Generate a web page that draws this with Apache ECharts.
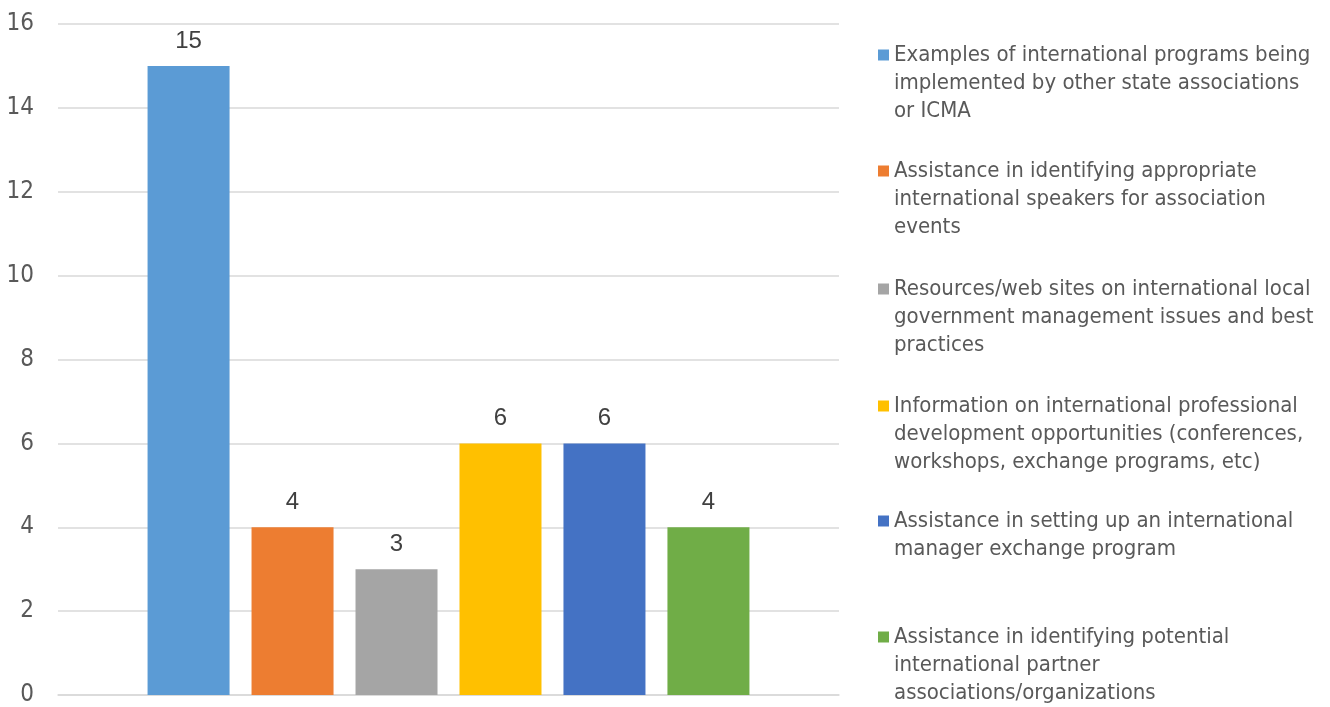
<!DOCTYPE html>
<html>
<head>
<meta charset="utf-8">
<script src="https://cdn.jsdelivr.net/npm/echarts@6/dist/echarts.min.js"></script>
<style>html,body{margin:0;padding:0;background:#fff;}#c{width:1330px;height:707px;}</style>
</head>
<body>
<div id="c"></div>
<script>
const categories = [''];
const seriesNames = [
  'Examples of international programs being implemented by other state associations or ICMA',
  'Assistance in identifying appropriate international speakers for association events',
  'Resources/web sites on international local government management issues and best practices',
  'Information on international professional development opportunities (conferences, workshops, exchange programs, etc)',
  'Assistance in setting up an international manager exchange program',
  'Assistance in identifying potential international partner associations/organizations'
];
const legendLines = [
  ['Examples of international programs being', 'implemented by other state associations', 'or ICMA'],
  ['Assistance in identifying appropriate', 'international speakers for association', 'events'],
  ['Resources/web sites on international local', 'government management issues and best', 'practices'],
  ['Information on international professional', 'development opportunities (conferences,', 'workshops, exchange programs, etc)'],
  ['Assistance in setting up an international', 'manager exchange program'],
  ['Assistance in identifying potential', 'international partner', 'associations/organizations']
];
const values = [15, 4, 3, 6, 6, 4];
const colors = ['#5B9BD5', '#ED7D31', '#A5A5A5', '#FFC000', '#4472C4', '#70AD47'];
const yTicks = {min: 0, max: 16, interval: 2};

const legendFirstLineY = [55, 171, 289, 406, 521, 637];
const LH = 28;
const FONT = '"DejaVu Sans Condensed", "DejaVu Sans", sans-serif';

const legends = seriesNames.map((name, i) => {
  const n = legendLines[i].length;
  return {
    data: [name],
    left: 878,
    top: legendFirstLineY[i] - LH / 2 - (n - 1) * LH,
    orient: 'vertical',
    padding: 0,
    itemWidth: 11,
    itemHeight: 11,
    itemGap: 0,
    selectedMode: false,
    icon: 'rect',
    formatter: () => '\n'.repeat(n - 1) + legendLines[i].join('\n'),
    textStyle: {
      fontFamily: FONT,
      fontSize: 22,
      color: '#595959',
      lineHeight: LH
    }
  };
});

const chart = echarts.init(document.getElementById('c'));
chart.setOption({
  animation: false,
  backgroundColor: '#fff',
  legend: legends,
  grid: {left: 58, right: 491, top: 24, bottom: 12, containLabel: false},
  xAxis: {
    type: 'category',
    data: categories,
    axisLine: {lineStyle: {color: '#d9d9d9', width: 1.5}},
    axisTick: {show: false},
    axisLabel: {show: false}
  },
  yAxis: {
    type: 'value',
    min: yTicks.min, max: yTicks.max, interval: yTicks.interval,
    axisLine: {show: false},
    axisTick: {show: false},
    splitLine: {lineStyle: {color: '#d9d9d9', width: 1.5}},
    axisLabel: {color: '#595959', fontSize: 24, fontFamily: FONT, margin: 24}
  },
  series: seriesNames.map((name, i) => ({
    name: name,
    type: 'bar',
    data: [values[i]],
    barWidth: 82,
    barGap: '26.8%',
    itemStyle: {color: colors[i]},
    label: {
      show: true,
      position: 'top',
      distance: 13,
      color: '#404040',
      fontSize: 24,
      fontFamily: '"Liberation Sans", "DejaVu Sans", sans-serif'
    }
  }))
});
</script>
</body>
</html>
